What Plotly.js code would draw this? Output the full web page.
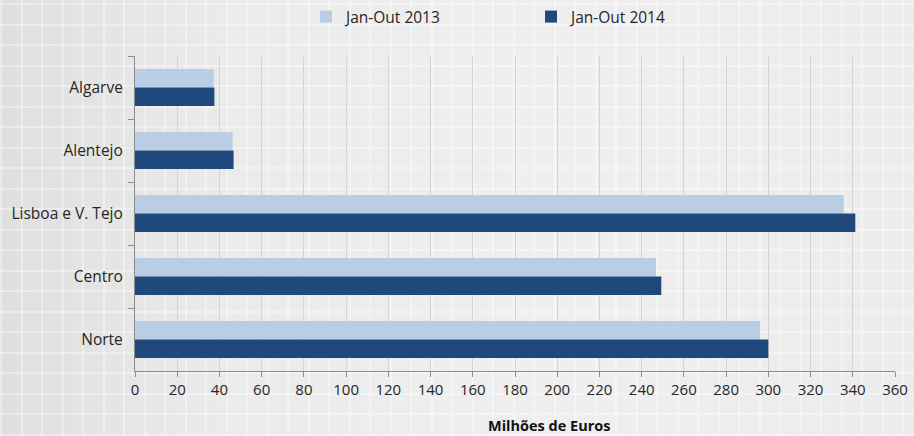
<!DOCTYPE html>
<html>
<head>
<meta charset="utf-8">
<script src="https://cdn.plot.ly/plotly-3.0.1.min.js"></script>
<style>
html,body{margin:0;padding:0;}
body{
  width:914px;height:436px;overflow:hidden;
  background-color:#ececec;
  background-image:
    repeating-linear-gradient(90deg, rgba(255,255,255,0.35) 0px, rgba(255,255,255,0.35) 2px, transparent 2px, transparent 20.5px),
    repeating-linear-gradient(0deg, rgba(255,255,255,0.35) 0px, rgba(255,255,255,0.35) 2px, transparent 2px, transparent 20.5px),
    linear-gradient(90deg, #dfdfdf 0%, #ebebeb 25%, #efefef 60%, #ececec 100%);
}
#chart{width:914px;height:436px;}
</style>
</head>
<body>
<div id="chart"></div>
<script>
const regions = ['Algarve', 'Alentejo', 'Lisboa e V. Tejo', 'Centro', 'Norte'];
const values2013 = [37.3, 46.2, 335.7, 246.8, 296.1];
const values2014 = [37.6, 46.7, 341.2, 249.3, 300.0];
const seriesNames = ['Jan-Out 2013', 'Jan-Out 2014'];
const xTicks = [0,20,40,60,80,100,120,140,160,180,200,220,240,260,280,300,320,340,360];
const xTitle = 'Milhões de Euros';

const font = "Open Sans, Noto Sans, sans-serif";

const data = [
  {type:'bar', orientation:'h', name:seriesNames[0], y:regions, x:values2013,
   marker:{color:'#b9cde5'}, hoverinfo:'x+name'},
  {type:'bar', orientation:'h', name:seriesNames[1], y:regions, x:values2014,
   marker:{color:'#1f497d'}, hoverinfo:'x+name'}
];

const layout = {
  width:914, height:436,
  margin:{l:135, r:19, t:56, b:65},
  paper_bgcolor:'rgba(0,0,0,0)',
  plot_bgcolor:'rgba(0,0,0,0)',
  barmode:'group', bargap:0.41, bargroupgap:0,
  font:{family:font, color:'#262626', size:14},
  showlegend:true,
  legend:{orientation:'h', xref:'container', x:(306)/914, xanchor:'left', y:1.0, yref:'container', yanchor:'top',
          font:{size:15.5, color:'#262626'}, entrywidth:180, itemwidth:30,
          bgcolor:'rgba(0,0,0,0)'},
  xaxis:{range:[0,360], tickvals:xTicks, ticktext:xTicks.map(String),
         showgrid:true, gridcolor:'#d4d4d4', gridwidth:1,
         showline:true, linecolor:'#8c8c8c', linewidth:1,
         ticks:'outside', ticklen:5, tickcolor:'#8c8c8c',
         tickfont:{size:15, color:'#262626'}, zeroline:false, fixedrange:true},
  yaxis:{type:'category', autorange:'reversed', categoryorder:'array', categoryarray:regions,
         showline:true, linecolor:'#8c8c8c', linewidth:1,
         ticks:'outside', ticklen:6, tickcolor:'#8c8c8c', tickson:'boundaries',
         showgrid:false, tickfont:{size:15.5, color:'#262626'}, ticksuffix:'  ', fixedrange:true},
  annotations:[{text:'<b>'+xTitle+'</b>', xref:'paper', yref:'paper', x:(549-135)/760, y:-(425-371)/315,
                xanchor:'center', yanchor:'middle', showarrow:false, font:{size:14.5, color:'#111'}}]
};

Plotly.newPlot('chart', data, layout, {displayModeBar:false, staticPlot:true});
</script>
</body>
</html>
